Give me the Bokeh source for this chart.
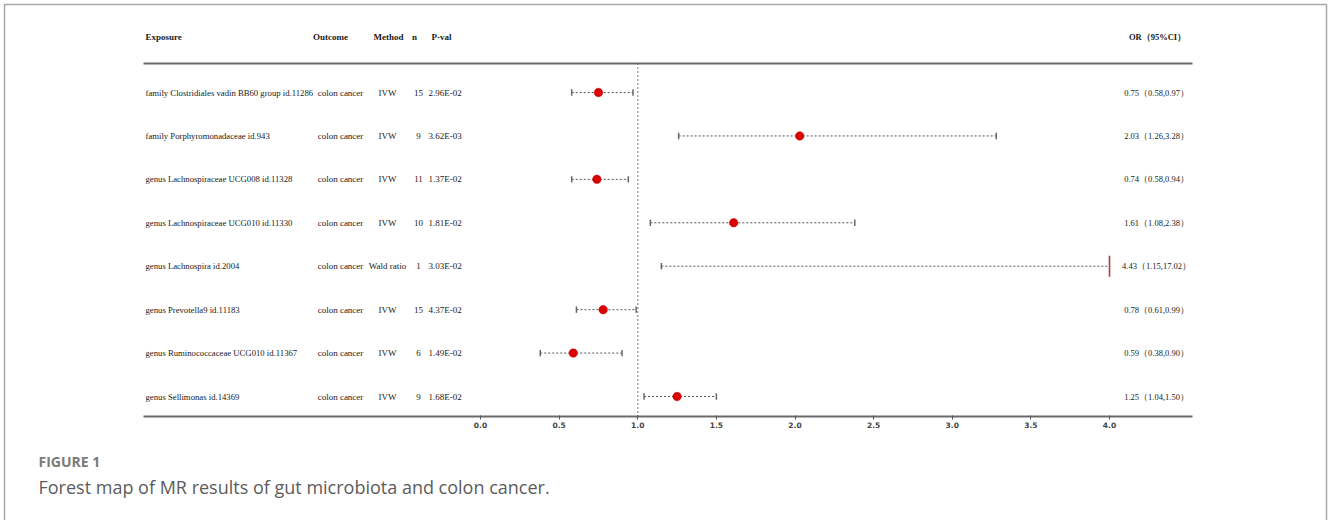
from bokeh.plotting import figure
from bokeh.models import Range1d, LinearAxis, FixedTicker, PrintfTickFormatter, ColumnDataSource
from bokeh.core.properties import value
from bokeh.embed import file_html
from bokeh.resources import INLINE

# ---------------- data ----------------
exposures = [
    "family Clostridiales vadin BB60 group id.11286",
    "family Porphyromonadaceae id.943",
    "genus Lachnospiraceae UCG008 id.11328",
    "genus Lachnospiraceae UCG010 id.11330",
    "genus Lachnospira id.2004",
    "genus Prevotella9 id.11183",
    "genus Ruminococcaceae UCG010 id.11367",
    "genus Sellimonas id.14369",
]
outcomes = ["colon cancer"] * 8
methods = ["IVW", "IVW", "IVW", "IVW", "Wald ratio", "IVW", "IVW", "IVW"]
n_snps = [15, 9, 11, 10, 1, 15, 6, 9]
pvals = ["2.96E-02", "3.62E-03", "1.37E-02", "1.81E-02", "3.03E-02", "4.37E-02", "1.49E-02", "1.68E-02"]
or_vals = [0.75, 2.03, 0.74, 1.61, 4.43, 0.78, 0.59, 1.25]
ci_low = [0.58, 1.26, 0.58, 1.08, 1.15, 0.61, 0.38, 1.04]
ci_high = [0.97, 3.28, 0.94, 2.38, 17.02, 0.99, 0.90, 1.50]
headers = ["Exposure", "Outcome", "Method", "n", "P-val", "OR（95%CI）"]
ticks = [0.0, 0.5, 1.0, 1.5, 2.0, 2.5, 3.0, 3.5, 4.0]
x_max = 4.0
ref_line = 1.0
fig_label = "FIGURE 1"
caption = "Forest map of MR results of gut microbiota and colon cancer."

# ---------------- layout helpers (pixel -> data) ----------------
W, H = 1328, 520
X0PX, PXU = 480.0, 157.25
ROW1PX, ROWPX = 92.0, 43.43


def xd(px):
    return (px - X0PX) / PXU


def yd(px):
    return 1 + (px - ROW1PX) / ROWPX


p = figure(width=W, height=H, output_backend="svg", toolbar_location=None,
           x_axis_location=None, y_axis_location=None,
           x_range=Range1d(xd(0), xd(W)), y_range=Range1d(yd(H), yd(0)),
           min_border=0, outline_line_color=None, background_fill_color="white",
           border_fill_color="white")
p.xgrid.visible = False
p.ygrid.visible = False

rows = list(range(1, len(exposures) + 1))
n = len(rows)
hi_clip = [min(h, x_max) for h in ci_high]

# page border (open at bottom)
border_col = "#a8a8a8"
p.line([xd(4), xd(4), xd(1326), xd(1326)], [yd(H + 5), yd(4), yd(4), yd(H + 5)],
       line_color=border_col, line_width=1.5)

# table rules
rule_col = "#6a6a6a"
p.segment(x0=[xd(143), xd(143)], x1=[xd(1192), xd(1192)], y0=[yd(63), yd(416)], y1=[yd(63), yd(416)],
          line_color=rule_col, line_width=1.8)

# reference line at OR = 1
p.segment(x0=[ref_line], x1=[ref_line], y0=[yd(63)], y1=[yd(416)],
          line_color="#555555", line_width=1.6, line_dash="1 3")

cap_h = 3.2 / ROWPX
big_h = 10.5 / ROWPX
src = ColumnDataSource(dict(y=rows, lo=ci_low, hi=hi_clip,
                            ylo=[r - cap_h for r in rows], yhi=[r + cap_h for r in rows]))

# CI lines
p.segment(x0="lo", x1="hi", y0="y", y1="y", source=src, line_color="#555555",
          line_width=1, line_dash="2 2")
# lower caps
p.segment(x0="lo", x1="lo", y0="ylo", y1="yhi", source=src, line_color="#666666", line_width=1.5)
# upper caps (within axis)
cap_hi = [h for h, v in zip(hi_clip, or_vals) if v <= x_max]
cap_hy = [r for r, v in zip(rows, or_vals) if v <= x_max]
p.segment(x0=cap_hi, x1=cap_hi, y0=[r - cap_h for r in cap_hy], y1=[r + cap_h for r in cap_hy],
          line_color="#666666", line_width=1.5)
# estimates beyond the axis -> red bar at the axis limit
over_y = [r for r, v in zip(rows, or_vals) if v > x_max]
over_x = [x_max for v in or_vals if v > x_max]
p.segment(x0=over_x, x1=over_x, y0=[r - big_h for r in over_y], y1=[r + big_h for r in over_y],
          line_color="#b23a3a", line_width=1.6)
# points
pts_x = [v for v in or_vals if v <= x_max]
pts_y = [r for r, v in zip(rows, or_vals) if v <= x_max]
p.scatter(pts_x, pts_y, size=8.5, fill_color="#d90000", line_color="#c00000", line_width=0.5)

# axis
ax = LinearAxis(ticker=FixedTicker(ticks=ticks), formatter=PrintfTickFormatter(format="%.1f"),
                fixed_location=yd(416))
ax.axis_line_color = None
ax.major_tick_line_color = "#555555"
ax.major_tick_line_width = 1
ax.major_tick_out = 3
ax.major_tick_in = 1
ax.minor_tick_line_color = None
ax.major_label_text_font = "DejaVu Sans"
ax.major_label_text_font_size = "7.5px"
ax.major_label_text_font_style = "bold"
ax.major_label_text_color = "#444444"
ax.major_label_standoff = 2
p.add_layout(ax, "below")

# table text
serif = value("Liberation Serif")
txt_col = "#1a1a1a"


def col_text(xs, ys, texts, align, bold=False, fs="9px"):
    p.text(x=xs, y=ys, text=texts, text_font=serif, text_font_size=fs,
           text_font_style="bold" if bold else "normal", text_color=txt_col,
           text_align=align, text_baseline="middle")


hy = yd(36)
hfs = "9px"
col_text([xd(145)], [hy], [headers[0]], "left", True, hfs)
col_text([xd(330)], [hy], [headers[1]], "center", True, hfs)
col_text([xd(388)], [hy], [headers[2]], "center", True, hfs)
col_text([xd(414)], [hy], [headers[3]], "center", True, hfs)
col_text([xd(441)], [hy], [headers[4]], "center", True, hfs)
col_text([xd(1157)], [hy], [headers[5]], "center", True, "8.5px")

col_text([xd(145)] * n, rows, exposures, "left", False, "8.7px")
col_text([xd(340)] * n, rows, outcomes, "center")
col_text([xd(387)] * n, rows, methods, "center")
col_text([xd(418)] * n, rows, [str(k) for k in n_snps], "center")
col_text([xd(428)] * n, rows, pvals, "left")
or_txt = ["%.2f（%.2f,%.2f）" % (a, b, c) for a, b, c in zip(or_vals, ci_low, ci_high)]
col_text([xd(1156)] * n, rows, or_txt, "center", False, "8.5px")

# caption
p.text(x=[xd(38)], y=[yd(461)], text=[fig_label], text_font=value("Open Sans"),
       text_font_size="14px", text_font_style="bold", text_color="#7a7a7a",
       text_align="left", text_baseline="middle")
p.text(x=[xd(38)], y=[yd(486)], text=[caption], text_font=value("Open Sans"),
       text_font_size="18px", text_color="#5c5c5c",
       text_align="left", text_baseline="middle")

open("out.html", "w").write(file_html(p, INLINE))
